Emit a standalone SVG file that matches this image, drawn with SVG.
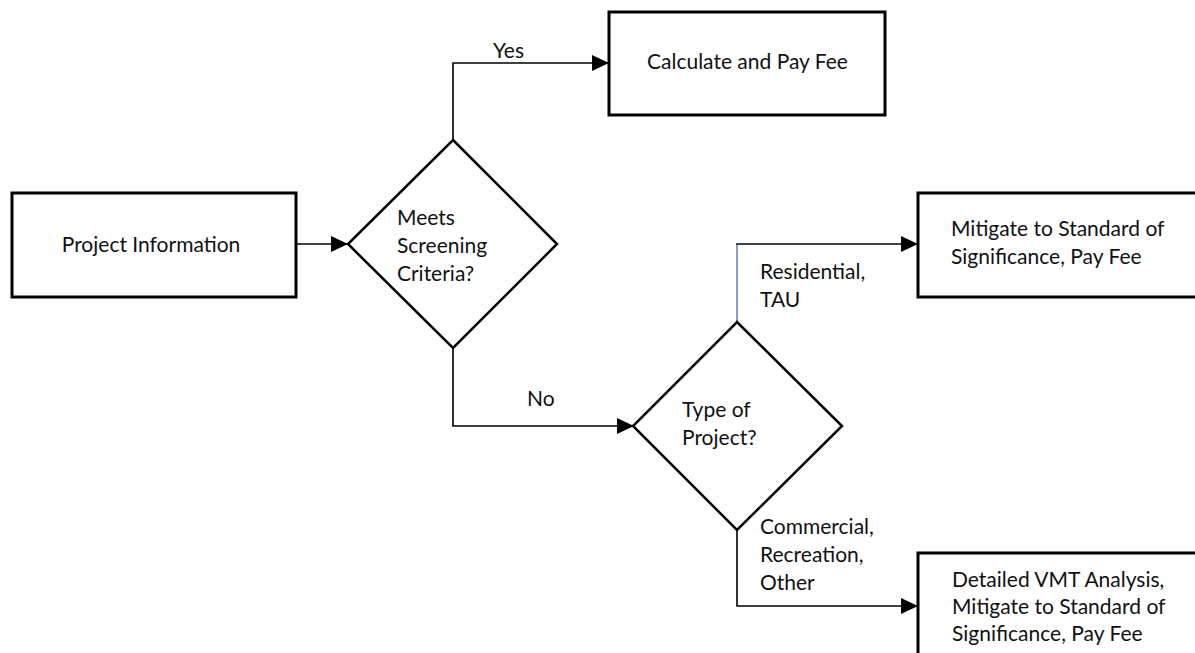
<svg xmlns="http://www.w3.org/2000/svg" width="1195" height="653" viewBox="0 0 1195 653">
  <defs>
    <marker id="arrow" markerUnits="userSpaceOnUse" markerWidth="18" markerHeight="16" refX="17" refY="8" orient="auto">
      <path d="M0,0 L17,8 L0,16 z" fill="#000"/>
    </marker>
    <style>
      .box { fill: #fff; stroke: #000; stroke-width: 3; }
      .dia { fill: #fff; stroke: #000; stroke-width: 2.5; }
      .conn { fill: none; stroke: #000; stroke-width: 1.6; }
      .blue { fill: none; stroke: #7384c4; stroke-width: 1.6; }
      text { font-family: Lato, "Liberation Sans", sans-serif; font-size: 21px; fill: #111; }
    </style>
  </defs>
  <rect width="1195" height="653" fill="#fff"/>

  <!-- connectors -->
  <g id="connectors">
    <line class="conn" x1="296" y1="244" x2="348" y2="244" marker-end="url(#arrow)"/>
    <polyline class="conn" points="453,140 453,63 609,63" marker-end="url(#arrow)"/>
    <polyline class="conn" points="453,348 453,426 634,426" marker-end="url(#arrow)"/>
    <line class="blue" x1="737" y1="322" x2="737" y2="244"/>
    <line class="conn" x1="736.2" y1="244" x2="918" y2="244" marker-end="url(#arrow)"/>
    <polyline class="conn" points="737,530 737,606 918,606" marker-end="url(#arrow)"/>
    <text x="493" y="58">Yes</text>
    <text x="527" y="406">No</text>
    <text x="760" y="279">Residential,</text>
    <text x="760" y="307">TAU</text>
    <text x="760" y="534">Commercial,</text>
    <text x="760" y="562">Recreation,</text>
    <text x="760" y="590">Other</text>
  </g>

  <g id="project-information">
    <rect class="box" x="12" y="193" width="284" height="104"/>
    <text x="151" y="252" text-anchor="middle">Project Information</text>
  </g>

  <g id="screening">
    <polygon class="dia" points="453,140 557,244 453,348 348,244"/>
    <text x="397" y="225">Meets</text>
    <text x="397" y="253">Screening</text>
    <text x="397" y="281">Criteria?</text>
  </g>

  <g id="calculate-fee">
    <rect class="box" x="609" y="12" width="276" height="103"/>
    <text x="647" y="69">Calculate and Pay Fee</text>
  </g>

  <g id="project-type">
    <polygon class="dia" points="737,322 842,426 737,530 633,426"/>
    <text x="682" y="417">Type of</text>
    <text x="682" y="445">Project?</text>
  </g>

  <g id="mitigate">
    <rect class="box" x="918" y="193" width="300" height="104"/>
    <text x="951" y="236">Mitigate to Standard of</text>
    <text x="951" y="264">Significance, Pay Fee</text>
  </g>

  <g id="vmt-analysis">
    <rect class="box" x="918" y="553" width="300" height="130"/>
    <text x="952" y="587">Detailed VMT Analysis,</text>
    <text x="952" y="614">Mitigate to Standard of</text>
    <text x="952" y="641">Significance, Pay Fee</text>
  </g>
</svg>
